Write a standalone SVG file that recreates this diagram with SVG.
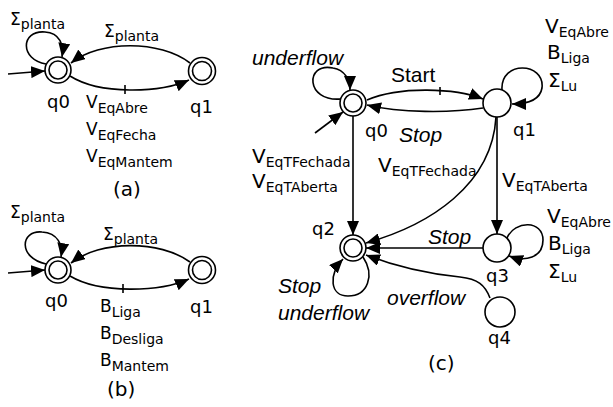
<svg xmlns="http://www.w3.org/2000/svg" width="613" height="407" viewBox="0 0 613 407">
  <defs>
    <marker id="arr" viewBox="0 0 14 12" refX="14" refY="6" markerWidth="14" markerHeight="12" markerUnits="userSpaceOnUse" orient="auto">
      <path d="M0,0 L14,6 L0,12 z" fill="#000"/>
    </marker>
    <style>
      .e { fill: none; stroke: #000; stroke-width: 1.6; }
      .a { marker-end: url(#arr); }
      .c { fill: #fff; stroke: #000; stroke-width: 1.6; }
      text { font-family: "DejaVu Sans", Verdana, sans-serif; fill: #000; }
      .q { font-size: 18px; }
      .m { font-size: 17px; }
      .m2 { font-size: 20px; }
      .s { font-size: 14px; }
      .cap { font-size: 20px; }
      .ar { font-family: "Liberation Sans", Arial, sans-serif; font-size: 21px; }
      .it { font-family: "Liberation Sans", Arial, sans-serif; font-size: 21px; font-style: italic; }
    </style>
  </defs>

  <rect width="613" height="407" fill="#fff"/>

  <!-- connectors -->
  <g id="connectors">
    <!-- (a) -->
    <path class="e a" d="M8,74 L45,71"/>
    <path class="e a" d="M46,64 C20,60 20,30 45,32 C60,33 64,45 62,57"/>
    <path class="e a" d="M190,63 C160,40 100,40 71,63"/>
    <path class="e a" d="M70,76 C100,95 160,93 189,80"/>
    <path class="e" d="M125,85 L125,94"/>
    <!-- (b) -->
    <path class="e a" d="M8,273 L45,270"/>
    <path class="e a" d="M46,264 C18,258 20,230 42,232 C58,233 63,245 61,257"/>
    <path class="e a" d="M190,262 C160,240 100,240 71,263"/>
    <path class="e a" d="M70,276 C100,294 160,292 189,279"/>
    <path class="e" d="M123,284 L123,293"/>
    <!-- (c) -->
    <path class="e a" d="M315,133 L343,112"/>
    <path class="e a" d="M341,99 C305,102 305,62 333,68 C345,70 350,80 350,90"/>
    <path class="e a" d="M367,100 C400,86 455,88 483,99"/>
    <path class="e" d="M440,87 L440,95"/>
    <path class="e a" d="M483,108 C450,113 400,113 367,105"/>
    <path class="e a" d="M502,90 C500,60 545,62 542,88 C540,100 527,104 512,104"/>
    <path class="e a" d="M353,116 L353,235"/>
    <path class="e a" d="M497,117 L497,234"/>
    <path class="e a" d="M496,117 C492,185 430,225 366,243"/>
    <path class="e a" d="M483,248 L366,248"/>
    <path class="e a" d="M507,238 C515,220 543,220 543,240 C543,258 525,262 509,256"/>
    <path class="e a" d="M490,298 C485,285 478,279 460,277 C430,274 400,268 366,255"/>
    <path class="e a" d="M363,257 C375,275 368,296 348,296 C330,296 328,275 343,259"/>
  </g>

  <!-- (a) states -->
  <g id="a-q0">
    <circle class="c" cx="58" cy="70" r="13"/>
    <circle class="c" cx="58" cy="70" r="9"/>
    <text class="q" x="47" y="108">q0</text>
  </g>
  <g id="a-q1">
    <circle class="c" cx="202" cy="71" r="13.5"/>
    <circle class="c" cx="202" cy="71" r="9.5"/>
    <text class="q" x="190" y="113">q1</text>
  </g>

  <!-- (b) states -->
  <g id="b-q0">
    <circle class="c" cx="58" cy="270" r="13"/>
    <circle class="c" cx="58" cy="270" r="9"/>
    <text class="q" x="45" y="307">q0</text>
  </g>
  <g id="b-q1">
    <circle class="c" cx="202" cy="270" r="13.5"/>
    <circle class="c" cx="202" cy="270" r="9.5"/>
    <text class="q" x="190" y="313">q1</text>
  </g>

  <!-- (c) states -->
  <g id="c-q0">
    <circle class="c" cx="353" cy="103" r="13"/>
    <circle class="c" cx="353" cy="103" r="9"/>
    <text class="q" x="365" y="137">q0</text>
  </g>
  <g id="c-q1">
    <circle class="c" cx="497" cy="103" r="14"/>
    <text class="q" x="513" y="136">q1</text>
  </g>
  <g id="c-q2">
    <circle class="c" cx="353" cy="248" r="13"/>
    <circle class="c" cx="353" cy="248" r="9"/>
    <text class="q" x="312" y="235">q2</text>
  </g>
  <g id="c-q3">
    <circle class="c" cx="497" cy="248" r="14"/>
    <text class="q" x="486" y="282">q3</text>
  </g>
  <g id="c-q4">
    <circle class="c" cx="500" cy="312" r="15"/>
    <text class="q" x="488" y="344">q4</text>
  </g>

  <!-- edge labels -->
  <g id="labels">
    <!-- (a) -->
    <text class="m" x="10" y="25">Σ<tspan class="s" dy="4">planta</tspan></text>
    <text class="m" x="104" y="37">Σ<tspan class="s" dy="4">planta</tspan></text>
    <text class="m" x="86" y="108">V<tspan class="s" dy="5">EqAbre</tspan></text>
    <text class="m" x="86" y="135">V<tspan class="s" dy="5">EqFecha</tspan></text>
    <text class="m" x="86" y="162">V<tspan class="s" dy="5">EqMantem</tspan></text>
    <text class="cap" x="113" y="196">(a)</text>
    <!-- (b) -->
    <text class="m" x="10" y="218">Σ<tspan class="s" dy="4">planta</tspan></text>
    <text class="m" x="103" y="240">Σ<tspan class="s" dy="4">planta</tspan></text>
    <text class="m" x="100" y="312">B<tspan class="s" dy="5">Liga</tspan></text>
    <text class="m" x="100" y="339">B<tspan class="s" dy="5">Desliga</tspan></text>
    <text class="m" x="100" y="366">B<tspan class="s" dy="5">Mantem</tspan></text>
    <text class="cap" x="107" y="396">(b)</text>
    <!-- (c) -->
    <text class="it" x="252" y="65">underflow</text>
    <text class="ar" x="391" y="82">Start</text>
    <text class="it" x="399" y="142">Stop</text>
    <text class="m2" x="545" y="33">V<tspan class="s" dy="4">EqAbre</tspan></text>
    <text class="m2" x="547" y="59">B<tspan class="s" dy="4">Liga</tspan></text>
    <text class="m2" x="548" y="87">Σ<tspan class="s" dy="4">Lu</tspan></text>
    <text class="m2" x="252" y="163">V<tspan class="s" dy="4">EqTFechada</tspan></text>
    <text class="m2" x="252" y="188">V<tspan class="s" dy="4">EqTAberta</tspan></text>
    <text class="m2" x="378" y="172">V<tspan class="s" dy="4">EqTFechada</tspan></text>
    <text class="m2" x="502" y="187">V<tspan class="s" dy="4">EqTAberta</tspan></text>
    <text class="it" x="428" y="244">Stop</text>
    <text class="m2" x="547" y="223">V<tspan class="s" dy="4">EqAbre</tspan></text>
    <text class="m2" x="548" y="250">B<tspan class="s" dy="4">Liga</tspan></text>
    <text class="m2" x="548" y="278">Σ<tspan class="s" dy="4">Lu</tspan></text>
    <text class="it" x="278" y="293">Stop</text>
    <text class="it" x="278" y="320">underflow</text>
    <text class="it" x="387" y="305">overflow</text>
    <text class="cap" x="428" y="370">(c)</text>
  </g>
</svg>
